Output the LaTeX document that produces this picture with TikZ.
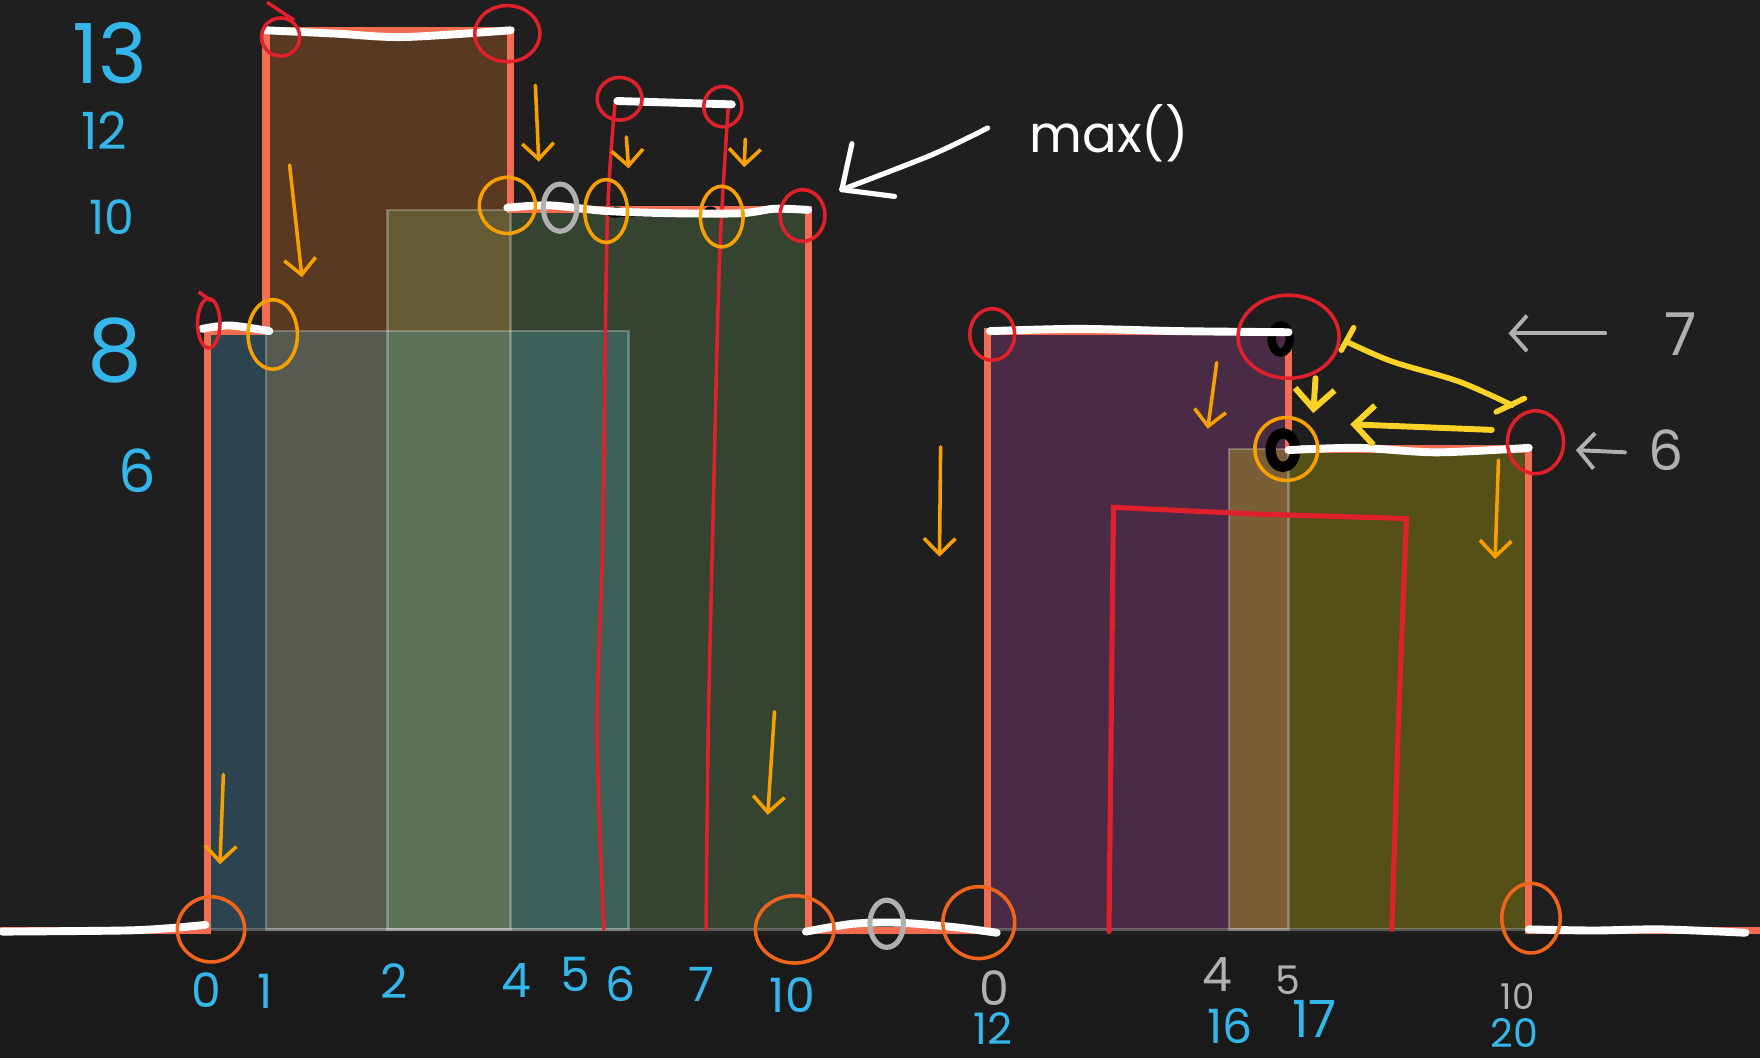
\documentclass[tikz,border=0pt]{standalone}
\usepackage{fontspec}
\setmainfont{Poppins}
\usetikzlibrary{arrows.meta}

\definecolor{board}{HTML}{1F1F1F}
\definecolor{boardlow}{HTML}{1A1A1A}
\definecolor{salmon}{HTML}{F26C52}
\definecolor{ringred}{HTML}{E0202A}
\definecolor{amber}{HTML}{F7A000}
\definecolor{rust}{HTML}{F0641C}
\definecolor{chalkblue}{HTML}{35B6EA}
\definecolor{chalkgray}{HTML}{B0B0B0}
\definecolor{lemon}{HTML}{FDD226}
% building fills and their overlaps
\definecolor{tealB}{HTML}{2B4450}
\definecolor{brownB}{HTML}{5A3922}
\definecolor{greenB}{HTML}{344430}
\definecolor{tbMix}{HTML}{565A50}
\definecolor{bgMix}{HTML}{645A33}
\definecolor{tbgMix}{HTML}{5E7259}
\definecolor{tgMix}{HTML}{3D6058}
\definecolor{plumB}{HTML}{4A2B45}
\definecolor{oliveB}{HTML}{545018}
\definecolor{poMix}{HTML}{7A5E36}

\begin{document}
\begin{tikzpicture}[x=0.01cm, y=-0.01cm,
    chalk/.style={draw=white, line width=2pt, line cap=round, line join=round},
    skyline/.style={draw=salmon, line width=1.8pt},
    redpen/.style={draw=ringred, line width=0.9pt, line cap=round},
    redring/.style={draw=ringred, line width=0.9pt},
    ambring/.style={draw=amber, line width=0.9pt},
    rustring/.style={draw=rust, line width=0.9pt},
    ambarrow/.style={draw=amber, line width=0.9pt, line cap=round, -{Straight Barb[length=4pt,width=8pt]}},
    lemonarrow/.style={draw=lemon, line width=1.5pt, line cap=round, -{Straight Barb[length=5pt,width=10pt]}},
    grayarrow/.style={draw=chalkgray, line width=1pt, line cap=round, -{Straight Barb[length=4pt,width=9pt]}},
    outline/.style={draw=white, draw opacity=.25, line width=.7pt},
    num/.style={inner sep=0pt, text=chalkblue},
    gnum/.style={inner sep=0pt, text=chalkgray}]

    % board
    \fill[board] (0,0) rectangle (1568,943);
    \fill[boardlow] (0,833) rectangle (1568,943);
    \useasboundingbox (0,0) rectangle (1568,943);

    % left buildings
    \fill[tealB] (185,295) rectangle (560,828);
    \fill[brownB] (237,27) rectangle (455,828);
    \fill[greenB] (345,187) rectangle (720,828);
    \fill[tbMix] (237,295) rectangle (345,828);
    \fill[bgMix] (345,187) rectangle (455,295);
    \fill[tbgMix] (345,295) rectangle (455,828);
    \fill[tgMix] (455,295) rectangle (560,828);
    % right buildings
    \fill[plumB] (880,295) rectangle (1148,828);
    \fill[oliveB] (1095,400) rectangle (1362,828);
    \fill[poMix] (1095,400) rectangle (1148,828);

    \draw[outline] (185,295) rectangle (560,828);
    \draw[outline] (237,27) rectangle (455,828);
    \draw[outline] (345,187) rectangle (720,828);
    \draw[outline] (880,295) rectangle (1148,828);
    \draw[outline] (1095,400) rectangle (1362,828);

    \draw[skyline] (0,829) -- (185,829) -- (185,295) -- (237,295) -- (237,27) -- (455,27) -- (455,187) -- (720,187) -- (720,829) -- (880,829) -- (880,295) -- (1148,295) -- (1148,400) -- (1362,400) -- (1362,829) -- (1568,829);

    % hand drawn buildings
    \draw[redpen] plot[smooth] coordinates {(548,92) (541,200) (537,480) (532,650) (538,828)};
    \draw[redpen] plot[smooth] coordinates {(649,93) (641,232) (635,472) (631,650) (629,828)};
    \draw[redpen, line width=1.3pt] (988,830) -- (990,640) -- (992,452) -- (1120,458) -- (1253,462) -- (1246,640) -- (1240,828);

    % black marks
    \draw[black, line width=1.3pt] (545,191) -- (636,191);
    \fill[black] (548,189) ellipse [x radius=8, y radius=5];
    \fill[black] (633,189) ellipse [x radius=6, y radius=5];
    \draw[black, line width=2.2pt] (1141,302) ellipse [x radius=8, y radius=12];
    \draw[black, line width=2.6pt] (1143,401) ellipse [x radius=11, y radius=15];

    % skyline in chalk
    \draw[chalk] plot[smooth] coordinates {(2,830) (110,829) (150,827) (183,824)};
    \draw[chalk] plot[smooth] coordinates {(180,293) (205,290) (240,295)};
    \draw[chalk] plot[smooth] coordinates {(237,27) (300,30) (360,33) (455,27)};
    \draw[chalk] plot[smooth] coordinates {(452,185) (490,183) (540,188) (600,190) (660,190) (690,186) (720,187)};
    \draw[chalk] (550,90) -- (652,93);
    \draw[chalk] plot[smooth] coordinates {(718,830) (760,823) (800,822) (850,826) (888,831)};
    \draw[chalk] plot[smooth] coordinates {(882,295) (960,293) (1050,295) (1148,296)};
    \draw[chalk] plot[smooth] coordinates {(1148,401) (1210,399) (1280,403) (1362,399)};
    \draw[chalk] plot[smooth] coordinates {(1362,828) (1420,829) (1480,828) (1555,831)};

    % red corners
    \draw[redring] (250,33) ellipse [x radius=17, y radius=17];
    \draw[redring] (262,18) -- (238,2);
    \draw[redring] (452,30) ellipse [x radius=29, y radius=25];
    \draw[redring] (186,288) ellipse [x radius=10, y radius=22];
    \draw[redring] (188,268) -- (177,260);
    \draw[redring] (552,88) ellipse [x radius=20, y radius=19];
    \draw[redring] (644,95) ellipse [x radius=17, y radius=18];
    \draw[redring] (715,192) ellipse [x radius=20, y radius=23];
    \draw[redring] (884,298) ellipse [x radius=20, y radius=23];
    \draw[redring] (1148,300) ellipse [x radius=45, y radius=37];
    \draw[redring] (1368,394) ellipse [x radius=25, y radius=28];

    % amber corners
    \draw[ambring] (243,298) ellipse [x radius=22, y radius=31];
    \draw[ambring] (452,183) ellipse [x radius=25, y radius=25];
    \draw[ambring] (540,188) ellipse [x radius=19, y radius=28];
    \draw[ambring] (643,193) ellipse [x radius=19, y radius=27];
    \draw[ambring] (1146,400) ellipse [x radius=28, y radius=28];
    \draw[chalkgray, line width=1.3pt] (499,185) ellipse [x radius=15, y radius=21];
    \draw[chalkgray, line width=1.3pt] (790,823) ellipse [x radius=15, y radius=21];

    % ground corners
    \draw[rustring] (188,828) ellipse [x radius=30, y radius=29];
    \draw[rustring] (708,828) ellipse [x radius=35, y radius=30];
    \draw[rustring] (872,822) ellipse [x radius=32, y radius=32];
    \draw[rustring] (1364,818) ellipse [x radius=26, y radius=31];

    % falling arrows
    \draw[ambarrow] (258,147) -- (269,247);
    \draw[ambarrow] (477,76) -- (480,144);
    \draw[ambarrow] (558,122) -- (560,150);
    \draw[ambarrow] (664,124) -- (663,149);
    \draw[ambarrow] (199,690) -- (196,770);
    \draw[ambarrow] (690,634) -- (684,726);
    \draw[ambarrow] (838,398) -- (837,496);
    \draw[ambarrow] (1084,323) -- (1076,382);
    \draw[ambarrow] (1335,410) -- (1332,498);

    \draw[lemonarrow] (1172,337) -- (1170,368);
    \draw[lemonarrow] (1329,383) -- (1203,378);
    \draw[lemon, line width=1.4pt, line cap=round] plot[smooth] coordinates {(1201,305) (1240,322) (1300,340) (1347,361)};
    \draw[lemon, line width=1.4pt, line cap=round] (1195,312) -- (1206,292);
    \draw[lemon, line width=1.4pt, line cap=round] (1333,367) -- (1358,355);

    \draw[grayarrow] (1430,297) -- (1344,297);
    \draw[grayarrow] (1448,403) -- (1404,401);

    % max() pointer
    \draw[chalk, line width=1.3pt] plot[smooth] coordinates {(880,114) (830,138) (750,169)};
    \draw[chalk, line width=1.3pt] (759,128) -- (750,169) -- (797,175);
    \node[inner sep=0pt, text=white, font=\fontsize{13}{13}\selectfont] (maxlabel) at (988,119) {max()};

    % heights
    \node[num, font=\fontsize{21}{21}\selectfont] (h13) at (98,47) {13};
    \node[num, font=\fontsize{13}{13}\selectfont] (h12) at (93,116) {12};
    \node[num, font=\fontsize{12}{12}\selectfont] (h10) at (100,193) {10};
    \node[num, font=\fontsize{22}{22}\selectfont] (h8) at (102,312) {8};
    \node[num, font=\fontsize{15}{15}\selectfont] (h6) at (122,419) {6};
    \node[gnum, font=\fontsize{15}{15}\selectfont] (r7) at (1497,298) {7};
    \node[gnum, font=\fontsize{14}{14}\selectfont] (r6) at (1484,401) {6};

    % x positions
    \foreach \lab/\px/\py in {0/184/882, 1/236/883, 2/351/874, 4/460/874, 5/513/868, 6/553/877, 7/625/877, 10/706/887}
        \node[num, font=\fontsize{12}{12}\selectfont] (x\lab) at (\px,\py) {\lab};
    \node[gnum, font=\fontsize{12}{12}\selectfont] (g0) at (886,880) {0};
    \node[num, font=\fontsize{11}{11}\selectfont] (x12) at (885,916) {12};
    \node[gnum, font=\fontsize{12}{12}\selectfont] (g4) at (1085,868) {4};
    \node[gnum, font=\fontsize{10}{10}\selectfont] (g5) at (1147,873) {5};
    \node[num, font=\fontsize{12}{12}\selectfont] (x16) at (1096,914) {16};
    \node[num, font=\fontsize{13}{13}\selectfont] (x17) at (1171,908) {17};
    \node[gnum, font=\fontsize{9}{9}\selectfont] (g10) at (1352,888) {10};
    \node[num, font=\fontsize{10}{10}\selectfont] (x20) at (1349,920) {20};
\end{tikzpicture}
\end{document}
